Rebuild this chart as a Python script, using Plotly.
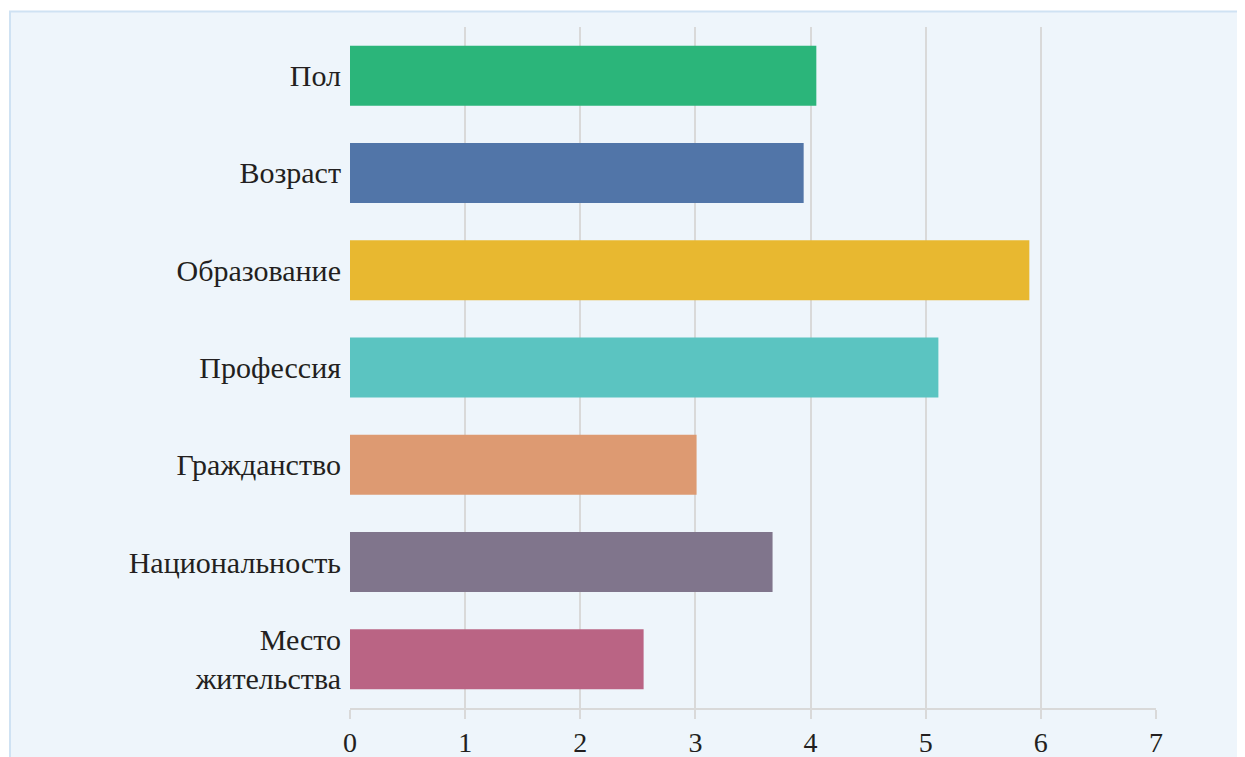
import plotly.graph_objects as go

categories = ["Пол", "Возраст", "Образование", "Профессия", "Гражданство",
              "Национальность", "Место<br>жительства"]
values = [4.05, 3.94, 5.90, 5.11, 3.01, 3.67, 2.55]
colors = ["#2BB57A", "#5175A8", "#E8B830", "#5BC4C1", "#DD9A72", "#80758C", "#BA6484"]
x_ticks = [0, 1, 2, 3, 4, 5, 6, 7]

OFF = 8  # page body margin
W, H = 1245 - OFF, 757 - OFF
L, T = 350 - OFF, 27 - OFF
pw, ph = 806, 681
R, B = W - L - pw, H - T - ph

fig = go.Figure(go.Bar(
    y=categories, x=values, orientation="h",
    marker=dict(color=colors, line=dict(width=0)),
    hoverinfo="x+y",
))

def px_to_paper_x(p):
    return (p - OFF - L) / pw

def px_to_paper_y(p):
    return 1 - (p - OFF - T) / ph

fig.add_shape(type="rect", xref="paper", yref="paper",
              x0=px_to_paper_x(10), x1=px_to_paper_x(1270),
              y0=px_to_paper_y(780), y1=px_to_paper_y(11.5),
              fillcolor="#EEF5FB", line=dict(color="#CFE2F3", width=2),
              layer="below")

fig.update_layout(
    width=W, height=H,
    margin=dict(l=L, r=R, t=T, b=B, autoexpand=False),
    paper_bgcolor="white",
    plot_bgcolor="rgba(0,0,0,0)",
    bargap=0.383,
    showlegend=False,
    font=dict(family="Liberation Serif, Times New Roman, serif", size=28, color="#231F20"),
    xaxis=dict(
        range=[0, 7], tickvals=x_ticks, ticktext=[str(v) for v in x_ticks],
        showgrid=True, gridcolor="#D9D9D9", gridwidth=1.5,
        zeroline=False, automargin=False,
        showline=True, linecolor="#D9D9D9", linewidth=1.5,
        ticks="outside", ticklen=9, tickcolor="#D9D9D9", tickwidth=1.5,
        tickfont=dict(size=28),
    ),
    yaxis=dict(
        range=[6.5, -0.5], autorange=False, automargin=False,
        showgrid=False, zeroline=False, showline=False,
        ticks="", ticklabelstandoff=8,
        tickfont=dict(size=30),
    ),
)

fig.write_html("out.html")
